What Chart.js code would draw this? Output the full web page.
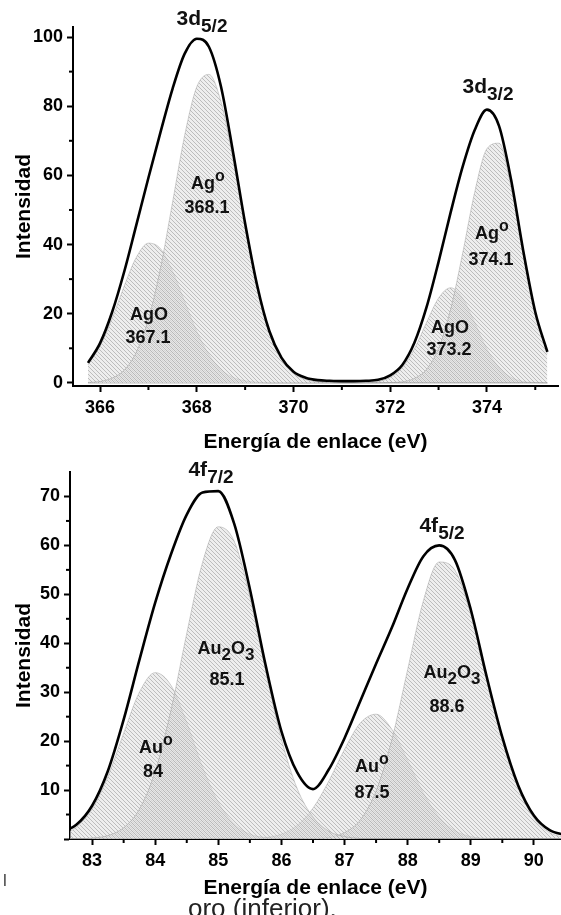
<!DOCTYPE html>
<html>
<head>
<meta charset="utf-8">
<script src="https://cdn.jsdelivr.net/npm/chart.js@4.4.0/dist/chart.umd.min.js"></script>
<style>
  body { margin: 0; background: #fff; width: 561px; height: 915px; overflow: hidden; position: relative; }
  canvas { position: absolute; left: 0; }
  #topChart { top: 0; }
  #bottomChart { top: 455px; }
  .lbl { position: absolute; font: bold 18px "Liberation Sans", Arial, sans-serif; line-height: 18px;
         white-space: nowrap; transform: translateX(-50%); color: #111; }
  .pk { position: absolute; font: bold 21px "Liberation Sans", Arial, sans-serif; line-height: 21px;
        white-space: nowrap; transform: translateX(-50%); color: #111; }
  .sb { font-size: 19px; position: relative; top: 7px; line-height: 0; }
  .lbl .sb { font-size: 17px; top: 6px; }
  .sp { font-size: 16px; position: relative; top: -8px; line-height: 0; }
  .cap { position: absolute; font: 26px "Liberation Sans", Arial, sans-serif; line-height: 26px; color: #222; white-space: nowrap; }
</style>
</head>
<body>
<canvas id="topChart" width="561" height="455"></canvas>
<canvas id="bottomChart" width="561" height="460"></canvas>

<!-- plata -->
<div class="pk" style="left:202px;top:7px">3d<span class="sb">5/2</span></div>
<div class="pk" style="left:488px;top:75px">3d<span class="sb">3/2</span></div>
<div class="lbl" style="left:208px;top:174px">Ag<span class="sp">o</span></div>
<div class="lbl" style="left:207px;top:198px">368.1</div>
<div class="lbl" style="left:149px;top:305px">AgO</div>
<div class="lbl" style="left:148px;top:328px">367.1</div>
<div class="lbl" style="left:492px;top:224px">Ag<span class="sp">o</span></div>
<div class="lbl" style="left:491px;top:250px">374.1</div>
<div class="lbl" style="left:450px;top:318px">AgO</div>
<div class="lbl" style="left:449px;top:340px">373.2</div>

<!-- oro -->
<div class="pk" style="left:211px;top:458px">4f<span class="sb">7/2</span></div>
<div class="pk" style="left:442px;top:514px">4f<span class="sb">5/2</span></div>
<div class="lbl" style="left:226px;top:639px">Au<span class="sb">2</span>O<span class="sb">3</span></div>
<div class="lbl" style="left:227px;top:670px">85.1</div>
<div class="lbl" style="left:156px;top:738px">Au<span class="sp">o</span></div>
<div class="lbl" style="left:153px;top:762px">84</div>
<div class="lbl" style="left:372px;top:757px">Au<span class="sp">o</span></div>
<div class="lbl" style="left:372px;top:783px">87.5</div>
<div class="lbl" style="left:452px;top:663px">Au<span class="sb">2</span>O<span class="sb">3</span></div>
<div class="lbl" style="left:447px;top:697px">88.6</div>

<div class="cap" style="left:3px;top:872px;font-size:17px;line-height:17px;color:#444">l</div>
<div class="cap" style="left:188px;top:895px">oro (inferior).</div>

<script>
// plata 3d (eV)
const energyTop = [365.75, 366, 366.25, 366.5, 366.75, 367, 367.25, 367.5, 367.75, 368, 368.25, 368.5, 368.75,
  369, 369.25, 369.5, 369.75, 370, 370.25, 370.5, 370.75, 371, 371.25, 371.5, 371.75, 372, 372.25, 372.5,
  372.75, 373, 373.25, 373.5, 373.75, 374, 374.25, 374.5, 374.75, 375, 375.25];
const envTop = [5.8, 11.5, 20.5, 32.2, 45.7, 59.3, 72.5, 85.1, 95.2, 99.5, 97.2, 85.7, 66.7, 46.1, 28.1, 15.0,
  7.3, 3.2, 1.5, 0.8, 0.6, 0.5, 0.5, 0.6, 0.9, 2.2, 5.2, 11.6, 21.8, 35.0, 49.3, 62.6, 73.2, 79.0, 74.3, 58.7,
  38.3, 20.5, 9.0];
const agO367 = [5.2, 10.6, 18.6, 28.0, 36.3, 40.4, 38.8, 32.3, 23.5, 14.9, 8.2, 3.9, 1.6, 0.6, 0.2, 0, 0, 0, 0,
  0, 0, 0, 0, 0, 0, 0, 0, 0, 0, 0, 0, 0, 0, 0, 0, 0, 0, 0, 0];
const ag0368 = [0.1, 0.4, 1.4, 3.7, 8.9, 18.4, 33.2, 52.3, 71.6, 85.6, 89.2, 81.3, 64.6, 45.0, 27.4, 14.5, 6.8,
  2.7, 1.0, 0.3, 0.1, 0, 0, 0, 0, 0, 0, 0, 0, 0, 0, 0, 0, 0, 0, 0, 0, 0, 0];
const agO373 = [0, 0, 0, 0, 0, 0, 0, 0, 0, 0, 0, 0, 0, 0, 0, 0, 0, 0, 0, 0, 0, 0, 0, 0.1, 0.4, 1.6, 4.4, 9.8,
  17.4, 24.5, 27.5, 24.5, 17.4, 9.8, 4.4, 1.6, 0.4, 0.1, 0];
const ag0374 = [0, 0, 0, 0, 0, 0, 0, 0, 0, 0, 0, 0, 0, 0, 0, 0, 0, 0, 0, 0, 0, 0, 0, 0, 0, 0.1, 0.3, 1.3, 3.9,
  10.0, 21.3, 37.6, 55.3, 67.7, 69.3, 56.6, 37.4, 19.9, 8.5];
const minorTopX = [367, 369, 371, 373, 375];
const minorTopY = [10, 30, 50, 70, 90];

// oro 4f (eV)
const energyBottom = [82.5, 82.75, 83, 83.25, 83.5, 83.75, 84, 84.25, 84.5, 84.75, 85, 85.25, 85.5, 85.75, 86,
  86.25, 86.5, 86.75, 87, 87.25, 87.5, 87.75, 88, 88.25, 88.5, 88.75, 89, 89.25, 89.5, 89.75, 90, 90.25, 90.5];
const envBottom = [1.3, 2.9, 6.8, 13.9, 24.4, 36.6, 48.3, 58.2, 66.3, 70.8, 71.1, 64.5, 51.1, 35.5, 22.0, 13.6,
  10.2, 14.2, 20.6, 28.2, 35.8, 43.2, 51.2, 57.8, 60.0, 57.0, 46.9, 33.3, 20.8, 11.0, 4.8, 1.8, 0.8];
const au084 = [0.8, 2.4, 6.1, 12.7, 21.6, 30.0, 34.0, 31.4, 23.8, 14.7, 7.5, 3.1, 1.0, 0.3, 0.1, 0, 0, 0, 0, 0,
  0, 0, 0, 0, 0, 0, 0, 0, 0, 0, 0, 0, 0];
const au2o385 = [0, 0, 0.2, 0.7, 2.3, 6.1, 13.8, 26.3, 42.0, 56.5, 63.8, 60.9, 49.5, 34.4, 20.4, 10.3, 4.5, 1.6,
  0.5, 0.1, 0, 0, 0, 0, 0, 0, 0, 0, 0, 0, 0, 0, 0];
const au0875 = [0, 0, 0, 0, 0, 0, 0, 0, 0, 0, 0, 0, 0.1, 0.3, 1.0, 2.8, 6.3, 11.8, 18.3, 23.7, 25.5, 22.4, 16.1,
  9.4, 4.5, 1.7, 0.5, 0.1, 0, 0, 0, 0, 0];
const au2o3886 = [0, 0, 0, 0, 0, 0, 0, 0, 0, 0, 0, 0, 0, 0, 0, 0, 0.1, 0.3, 1.3, 3.9, 9.8, 20.3, 34.6, 48.7,
  56.6, 54.9, 45.9, 32.6, 20.2, 10.5, 4.3, 1.3, 0.3];
const minorBottomX = [83.5, 84.5, 85.5, 86.5, 87.5, 88.5, 89.5];
const minorBottomY = [5, 15, 25, 35, 45, 55, 65];

window.addEventListener("load", () => {
  Chart.defaults.font.family = '"Liberation Sans", Arial, sans-serif';
  Chart.defaults.color = "#000";

  // rayado gris de los picos
  function hatch(ctx, shift) {
    const c = document.createElement("canvas");
    c.width = 4;
    c.height = 4;
    const g = c.getContext("2d");
    g.fillStyle = "rgba(226,226,226,0.6)";
    g.fillRect(0, 0, 4, 4);
    g.strokeStyle = "rgba(140,140,140,0.5)";
    g.lineWidth = 1;
    g.beginPath();
    for (let k = -1; k <= 1; k++) {
      g.moveTo(k * 4 + shift, 0);
      g.lineTo(k * 4 + shift + 4, 4);
    }
    g.stroke();
    return ctx.createPattern(c, "repeat");
  }

  const minorTicks = {
    id: "minorTicks",
    afterDraw(chart, args, opts) {
      const { ctx } = chart;
      const { x, y } = chart.scales;
      ctx.save();
      ctx.strokeStyle = "#000";
      ctx.lineWidth = 2;
      opts.x.forEach((v) => {
        const px = x.getPixelForValue(v);
        ctx.beginPath();
        ctx.moveTo(px, x.top);
        ctx.lineTo(px, x.top + 4);
        ctx.stroke();
      });
      opts.y.forEach((v) => {
        const py = y.getPixelForValue(v);
        ctx.beginPath();
        ctx.moveTo(y.right, py);
        ctx.lineTo(y.right - 4, py);
        ctx.stroke();
      });
      ctx.restore();
    },
  };

  const pts = (xs, ys) => xs.map((e, i) => ({ x: e, y: ys[i] }));

  function envelope(xs, ys) {
    return {
      data: pts(xs, ys),
      borderColor: "#000",
      borderWidth: 2.6,
      fill: false,
      cubicInterpolationMode: "monotone",
    };
  }
  function peak(xs, ys, pattern) {
    return {
      data: pts(xs, ys),
      borderColor: "rgba(150,150,150,0.55)",
      borderWidth: 0.8,
      backgroundColor: pattern,
      fill: "origin",
      cubicInterpolationMode: "monotone",
    };
  }

  function axes(xmin, xmax, xstep, ymin, ymax, ystep, xh, yw, titlePad, hideZero) {
    const grid = { drawOnChartArea: false, tickLength: 6, tickWidth: 2, tickColor: "#000" };
    const border = { color: "#000", width: 2 };
    return {
      x: {
        type: "linear",
        min: xmin,
        max: xmax,
        grid: grid,
        border: border,
        ticks: { stepSize: xstep, includeBounds: false, padding: 5, font: { size: 18, weight: "bold" } },
        title: { display: true, text: "Energía de enlace (eV)", padding: { top: 0, bottom: titlePad }, font: { size: 21, weight: "bold" } },
        afterFit: (s) => { s.height = xh; },
      },
      y: {
        min: ymin,
        max: ymax,
        grid: grid,
        border: border,
        ticks: {
          stepSize: ystep,
          includeBounds: false,
          padding: 4,
          font: { size: 18, weight: "bold" },
          callback: (v) => (hideZero && v === 0 ? "" : v),
        },
        title: { display: true, text: "Intensidad", padding: { top: 12, bottom: 0 }, font: { size: 21, weight: "bold" } },
        afterFit: (s) => { s.width = yw; },
      },
    };
  }

  //   plata
  const ctx1 = document.getElementById("topChart").getContext("2d");
  new Chart(ctx1, {
    type: "line",
    data: {
      datasets: [
        envelope(energyTop, envTop),
        peak(energyTop, ag0368, hatch(ctx1, 0)),
        peak(energyTop, agO367, hatch(ctx1, 2)),
        peak(energyTop, ag0374, hatch(ctx1, 0)),
        peak(energyTop, agO373, hatch(ctx1, 2)),
      ],
    },
    options: {
      responsive: false,
      animation: false,
      layout: { padding: { top: 27, right: 3, left: 0, bottom: 0 } },
      elements: { point: { radius: 0 } },
      plugins: {
        legend: { display: false },
        tooltip: { enabled: false },
        minorTicks: { x: minorTopX, y: minorTopY },
      },
      scales: axes(365.44, 375.47, 2, -0.9, 102.9, 20, 69, 73, 0, false),
    },
    plugins: [minorTicks],
  });

  //   oro
  const ctx2 = document.getElementById("bottomChart").getContext("2d");
  new Chart(ctx2, {
    type: "line",
    data: {
      datasets: [
        envelope(energyBottom, envBottom),
        peak(energyBottom, au2o385, hatch(ctx2, 0)),
        peak(energyBottom, au084, hatch(ctx2, 2)),
        peak(energyBottom, au2o3886, hatch(ctx2, 0)),
        peak(energyBottom, au0875, hatch(ctx2, 2)),
      ],
    },
    options: {
      responsive: false,
      animation: false,
      layout: { padding: { top: 17, right: 0, left: 0, bottom: 0 } },
      elements: { point: { radius: 0 } },
      plugins: {
        legend: { display: false },
        tooltip: { enabled: false },
        minorTicks: { x: minorBottomX, y: minorBottomY },
      },
      scales: axes(82.65, 90.43, 1, 0, 75, 10, 76, 70, 14, true),
    },
    plugins: [minorTicks],
  });
});
</script>
</body>
</html>
